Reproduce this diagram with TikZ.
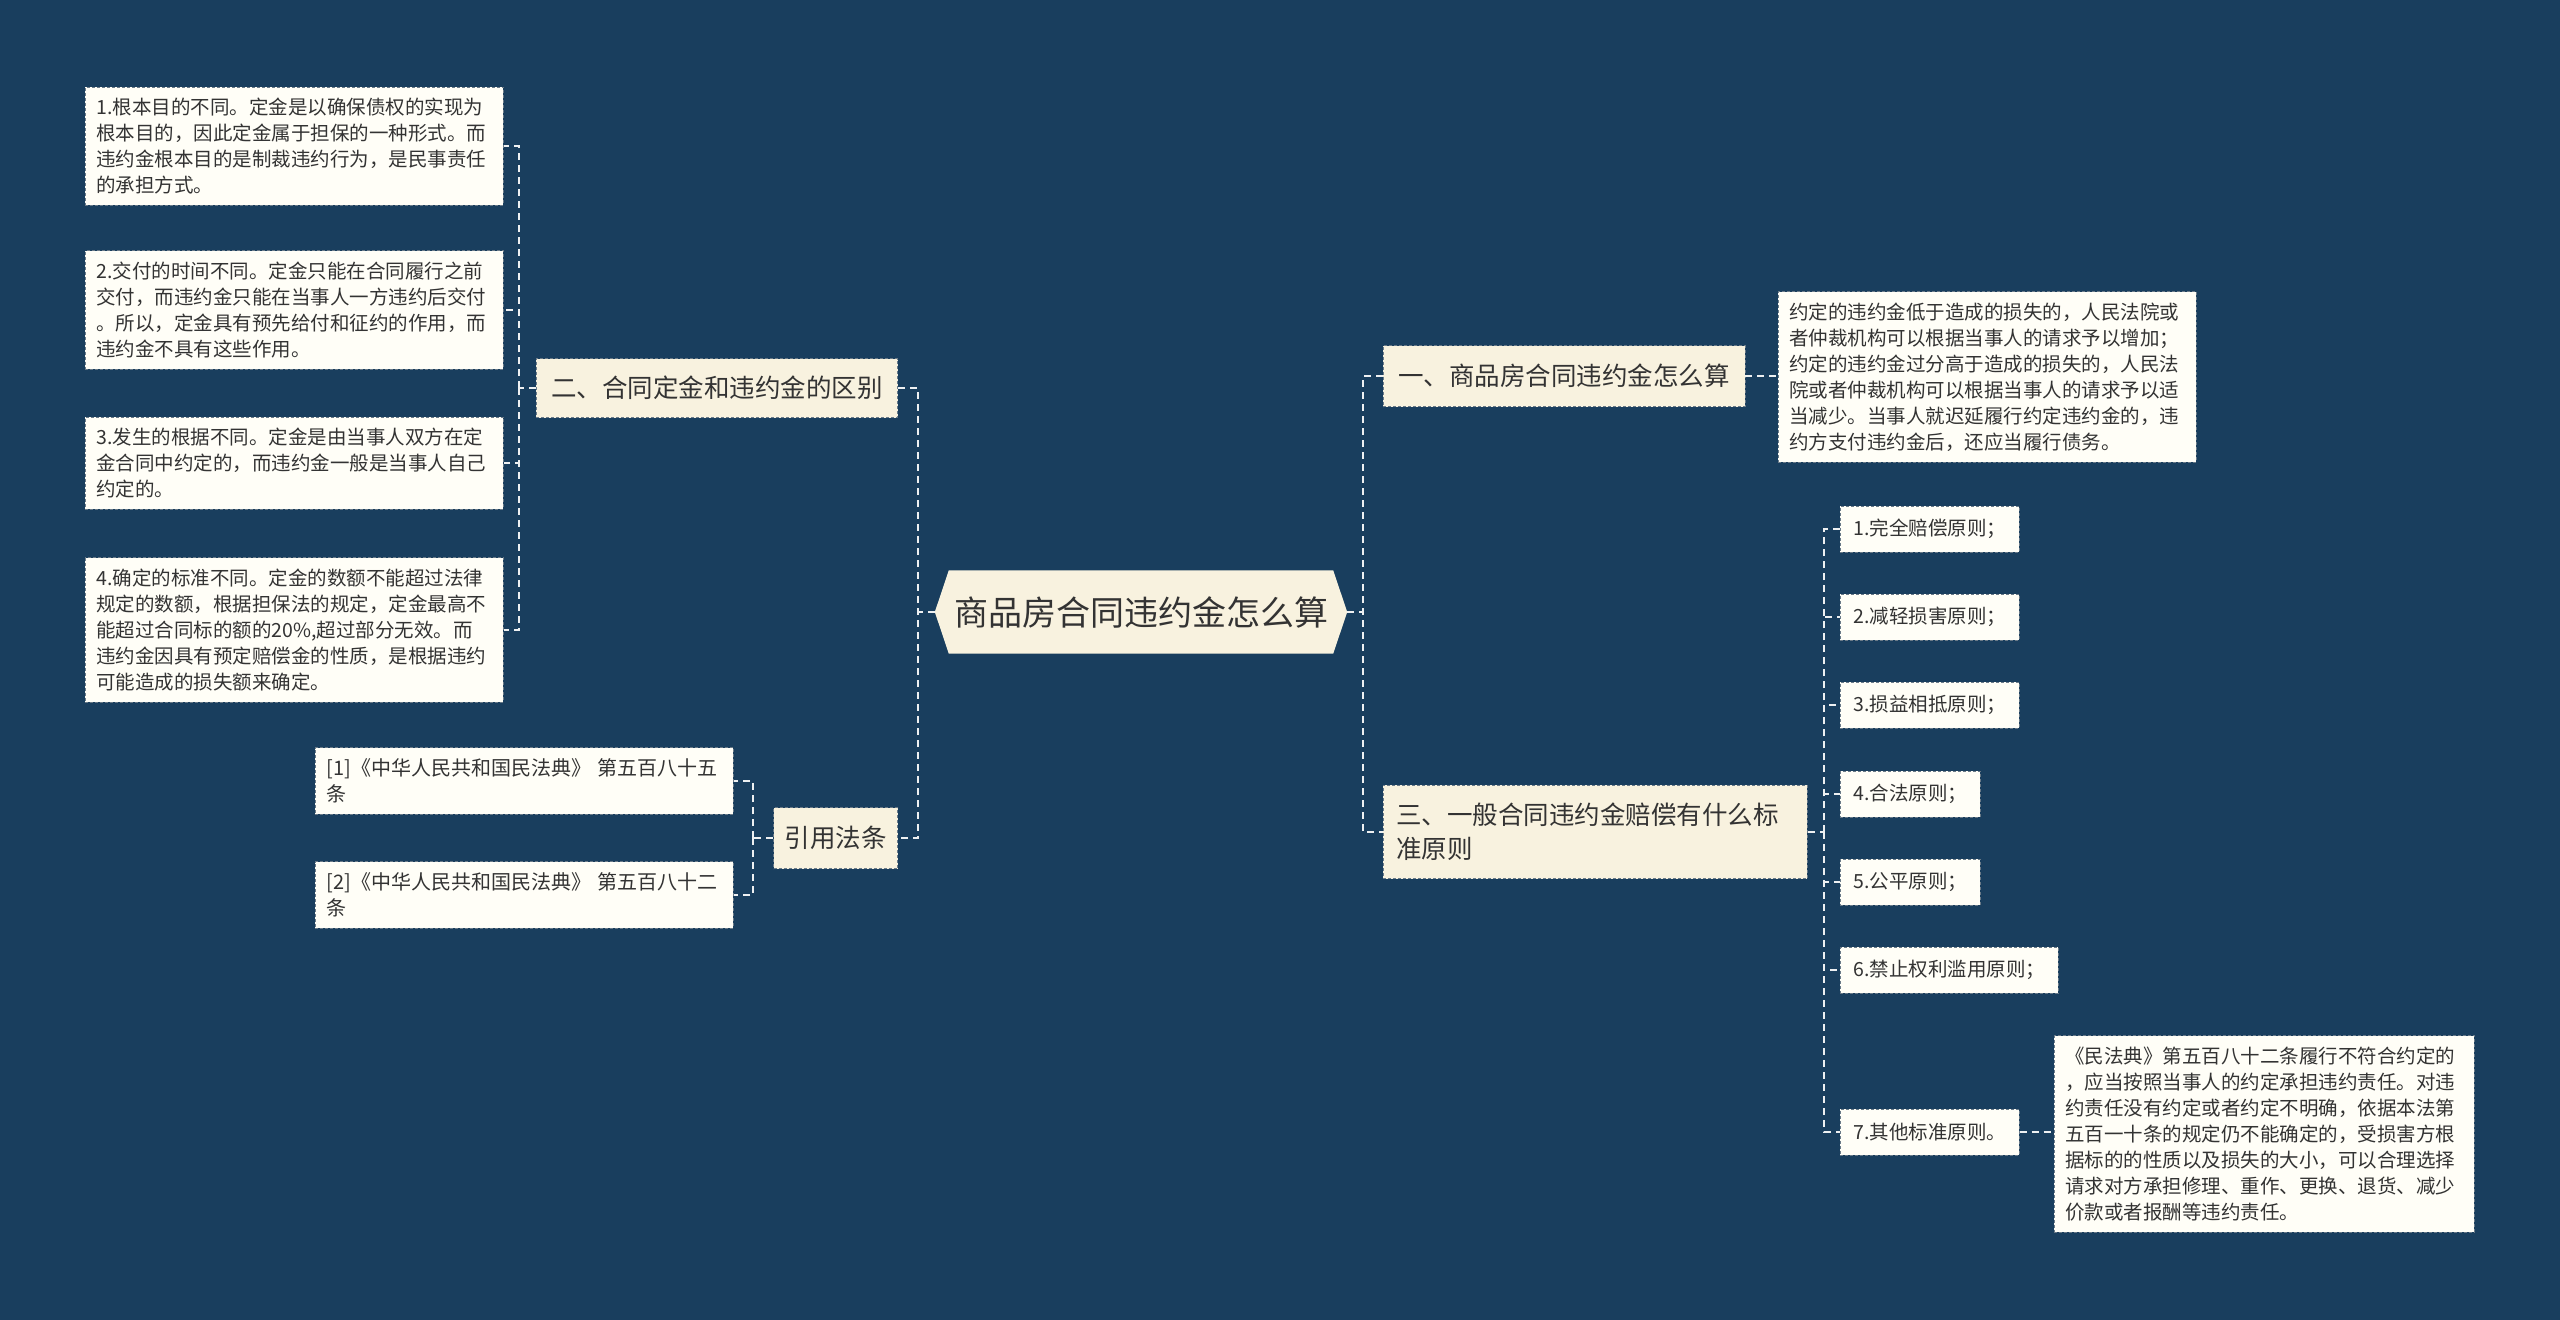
\documentclass[tikz,border=0pt]{standalone}
\usepackage{fontspec}
\setmainfont{Noto Sans CJK SC}
\usepackage{tikz}
\usetikzlibrary{backgrounds}

\definecolor{bgblue}{HTML}{193E5E}
\definecolor{cream}{HTML}{F8F2DF}
\definecolor{paper}{HTML}{FFFEF7}
\definecolor{ink}{HTML}{333333}
\definecolor{edgegray}{HTML}{6A7A88}

\begin{document}
\begin{tikzpicture}[x=1pt, y=-1pt,
        box/.style={draw=edgegray, line width=0.8pt, dash pattern=on 3pt off 2pt, text=ink},
        branch/.style={box, fill=cream, inner xsep=15pt, inner ysep=17pt,
            font=\fontsize{25.5}{34}\selectfont},
        detail/.style={box, fill=paper, anchor=west, text width=396pt, align=left,
            inner xsep=11pt, inner ysep=11pt, font=\fontsize{19.5}{26}\selectfont},
        leaf/.style={box, fill=paper, anchor=west, inner xsep=13pt, inner ysep=0pt,
            minimum height=46pt, font=\fontsize{19.5}{24}\selectfont},
        link/.style={draw=white!92!bgblue, line width=2.5pt, dash pattern=on 7pt off 5pt}]
    \useasboundingbox (0,0) rectangle (2560,1320);

    % centre
    \node[text=ink, font=\fontsize{34}{40}\selectfont, minimum width=412pt,
        minimum height=83pt, inner sep=0pt] (root) at (1141,612) {商品房合同违约金怎么算};

    % left side
    \node[branch, anchor=east, minimum height=59pt, inner ysep=0pt] (b2) at (898,388) {二、合同定金和违约金的区别};
    \node[branch, anchor=east, minimum height=61pt, inner ysep=0pt, inner xsep=11pt] (bref) at (898,838) {引用法条};

    \node[detail] (d1) at (85,146) {1.根本目的不同。定金是以确保债权的实现为\\根本目的，因此定金属于担保的一种形式。而\\违约金根本目的是制裁违约行为，是民事责任\\的承担方式。};
    \node[detail] (d2) at (85,310) {2.交付的时间不同。定金只能在合同履行之前\\交付，而违约金只能在当事人一方违约后交付\\。所以，定金具有预先给付和征约的作用，而\\违约金不具有这些作用。};
    \node[detail] (d3) at (85,463) {3.发生的根据不同。定金是由当事人双方在定\\金合同中约定的，而违约金一般是当事人自己\\约定的。};
    \node[detail] (d4) at (85,630) {4.确定的标准不同。定金的数额不能超过法律\\规定的数额，根据担保法的规定，定金最高不\\能超过合同标的额的20\%,超过部分无效。而\\违约金因具有预定赔偿金的性质，是根据违约\\可能造成的损失额来确定。};

    \node[detail, font=\fontsize{20}{26}\selectfont] (r1) at (315,781) {[1]《中华人民共和国民法典》~第五百八十五\\条};
    \node[detail, font=\fontsize{20}{26}\selectfont] (r2) at (315,895) {[2]《中华人民共和国民法典》~第五百八十二\\条};

    % right side
    \node[branch, anchor=west, minimum height=61pt, inner ysep=0pt] (b1) at (1383,376) {一、商品房合同违约金怎么算};
    \node[branch, anchor=west, text width=398pt, align=left, inner xsep=13pt, inner ysep=18pt] (b3) at (1383,832) {三、一般合同违约金赔偿有什么标\\准原则};

    \node[detail] (e1) at (1778,377) {约定的违约金低于造成的损失的，人民法院或\\者仲裁机构可以根据当事人的请求予以增加；\\约定的违约金过分高于造成的损失的，人民法\\院或者仲裁机构可以根据当事人的请求予以适\\当减少。当事人就迟延履行约定违约金的，违\\约方支付违约金后，还应当履行债务。};

    \node[leaf] (p1) at (1840,529) {1.完全赔偿原则；};
    \node[leaf] (p2) at (1840,617) {2.减轻损害原则；};
    \node[leaf] (p3) at (1840,705) {3.损益相抵原则；};
    \node[leaf] (p4) at (1840,794) {4.合法原则；};
    \node[leaf] (p5) at (1840,882) {5.公平原则；};
    \node[leaf] (p6) at (1840,970) {6.禁止权利滥用原则；};
    \node[leaf] (p7) at (1840,1132) {7.其他标准原则。};

    \node[detail, text width=398pt] (e7) at (2054,1134) {《民法典》第五百八十二条履行不符合约定的\\，应当按照当事人的约定承担违约责任。对违\\约责任没有约定或者约定不明确，依据本法第\\五百一十条的规定仍不能确定的，受损害方根\\据标的的性质以及损失的大小，可以合理选择\\请求对方承担修理、重作、更换、退货、减少\\价款或者报酬等违约责任。};

    % connectors
    \coordinate (hubL) at (918,612);
    \coordinate (hubR) at (1363,612);
    \coordinate (hub2) at (519,388);
    \coordinate (hubRef) at (753,838);
    \coordinate (hub3) at (1824,832);

    \draw[link] (root.west) -- (hubL);
    \draw[link] (b2.east) -| (hubL) |- (bref.east);
    \draw[link] (root.east) -- (hubR);
    \draw[link] (b1.west) -| (hubR) |- (b3.west);

    \draw[link] (b2.west) -- (hub2);
    \foreach \n in {d1,d2,d3,d4}
        \draw[link] (hub2) |- (\n.east);

    \draw[link] (bref.west) -- (hubRef);
    \foreach \n in {r1,r2}
        \draw[link] (hubRef) |- (\n.east);

    \draw[link] (b3.east) -- (hub3);
    \foreach \n in {p1,p2,p3,p4,p5,p6,p7}
        \draw[link] (hub3) |- (\n.west);

    \draw[link] (b1.east) -- (b1.east -| e1.west);
    \draw[link] (p7.east) -- (p7.east -| e7.west);

    \begin{scope}[on background layer]
        \fill[bgblue] (0,0) rectangle (2560,1320);
        \fill[cream] (root.west) -- ([xshift=14pt]root.north west) -- ([xshift=-14pt]root.north east)
            -- (root.east) -- ([xshift=-14pt]root.south east) -- ([xshift=14pt]root.south west) -- cycle;
    \end{scope}
\end{tikzpicture}
\end{document}
